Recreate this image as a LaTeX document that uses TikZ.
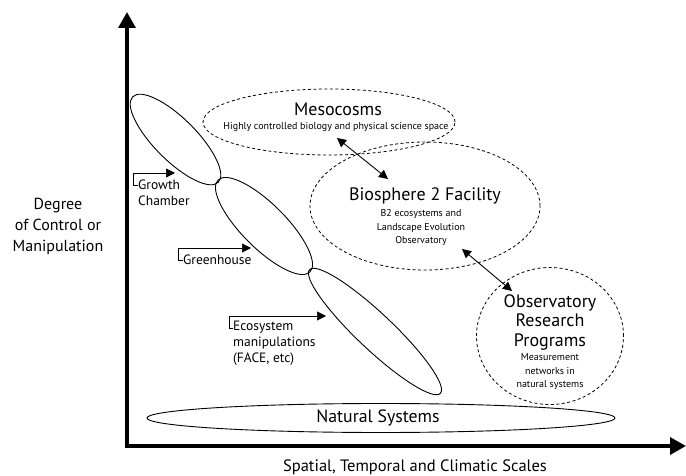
\documentclass[tikz,border=0pt]{standalone}
\usepackage{fontspec}
\setmainfont{PT Sans}
\usetikzlibrary{shapes.geometric,arrows.meta}
\tikzstyle{every node}=[inner sep=0pt]
\tikzstyle{axis}=[line width=3.5pt,-{Triangle[length=16pt,width=17pt]}]
\tikzstyle{scale ell}=[draw,ellipse,line width=0.9pt]
\tikzstyle{facility}=[draw,ellipse,dashed,dash pattern=on 3pt off 2.5pt,line width=0.8pt]
\tikzstyle{link}=[line width=0.9pt,{Triangle[length=9pt,width=9pt]}-{Triangle[length=9pt,width=9pt]}]
\tikzstyle{pointer}=[line width=0.7pt,-{Triangle[length=9pt,width=9pt]}]
\tikzstyle{big}=[font=\fontsize{18}{19.5}\selectfont,align=center]
\tikzstyle{small}=[font=\fontsize{10}{13.5}\selectfont,align=center]
\tikzstyle{label}=[font=\fontsize{13.5}{16}\selectfont,align=left,anchor=west]

\begin{document}
\begin{tikzpicture}[x=1pt,y=-1pt]
\useasboundingbox (0,0) rectangle (686,476);
% axes
\coordinate (origin) at (127,446);
\coordinate (ytip) at (127,12);
\coordinate (xtip) at (686,446);
\draw[axis] ([yshift=-1.75pt]origin) -- (ytip);
\draw[axis] ([xshift=-1.75pt]origin) -- (xtip);
\node[font=\fontsize{16}{21}\selectfont,align=center] (ylab) at (58,226) {Degree\\of Control or\\Manipulation};
\node[font=\fontsize{16.5}{19}\selectfont] (xlab) at (415,467) {Spatial, Temporal and Climatic Scales};

% experimental scales
\node[scale ell,minimum width=121,minimum height=42,rotate=-45] (growth) at (175.5,139.5) {};
\node[scale ell,minimum width=130,minimum height=44,rotate=-45] (green) at (264,226) {};
\node[scale ell,minimum width=180,minimum height=36,rotate=-43.4] (eco) at (375,331.5) {};
\node[scale ell,minimum width=468,minimum height=29] (nat) at (381,418) {};
\node[font=\fontsize{17.8}{19}\selectfont] (natlab) at (378,418) {Natural Systems};

% facilities
\node[facility,minimum width=252,minimum height=66] (meso) at (329,122) {};
\node[big] (mesolab) at (338,109) {Mesocosms};
\node[small] (mesotxt) at (336,127) {Highly controlled biology and physical science space};

\node[facility,minimum width=230,minimum height=128] (bio) at (425,206) {};
\node[big] (biolab) at (425,196) {Biosphere 2 Facility};
\node[small] (biotxt) at (421,227.5) {B2 ecosystems and\\Landscape Evolution\\Observatory};

\node[facility,minimum width=147,minimum height=137] (obs) at (550,336) {};
\node[big] (obslab) at (550,322) {Observatory\\Research\\Programs};
\node[small] (obstxt) at (550,372) {Measurement\\networks in\\natural systems};

\coordinate (m1) at (337,138);
\coordinate (b1) at (388,179);
\coordinate (b2) at (462,249);
\coordinate (o1) at (512,291);
\draw[link] (m1) -- (b1);
\draw[link] (b2) -- (o1);

% labels with pointers
\node[label] (gclab) at (138,193) {Growth\\Chamber};
\node[label] (ghlab) at (183,260) {Greenhouse};
\node[label] (ecolab) at (233,343) {Ecosystem\\manipulations\\(FACE, etc)};
\coordinate (gctip) at (175,173);
\coordinate (ghtip) at (251,248);
\coordinate (ecotip) at (326,316);
\draw[pointer] (138,185) -- (133,185) |- (gctip);
\draw[pointer] (183,260) -- (178,260) |- (ghtip);
\draw[pointer] (233,328) -- (229,328) |- (ecotip);
\end{tikzpicture}
\end{document}
